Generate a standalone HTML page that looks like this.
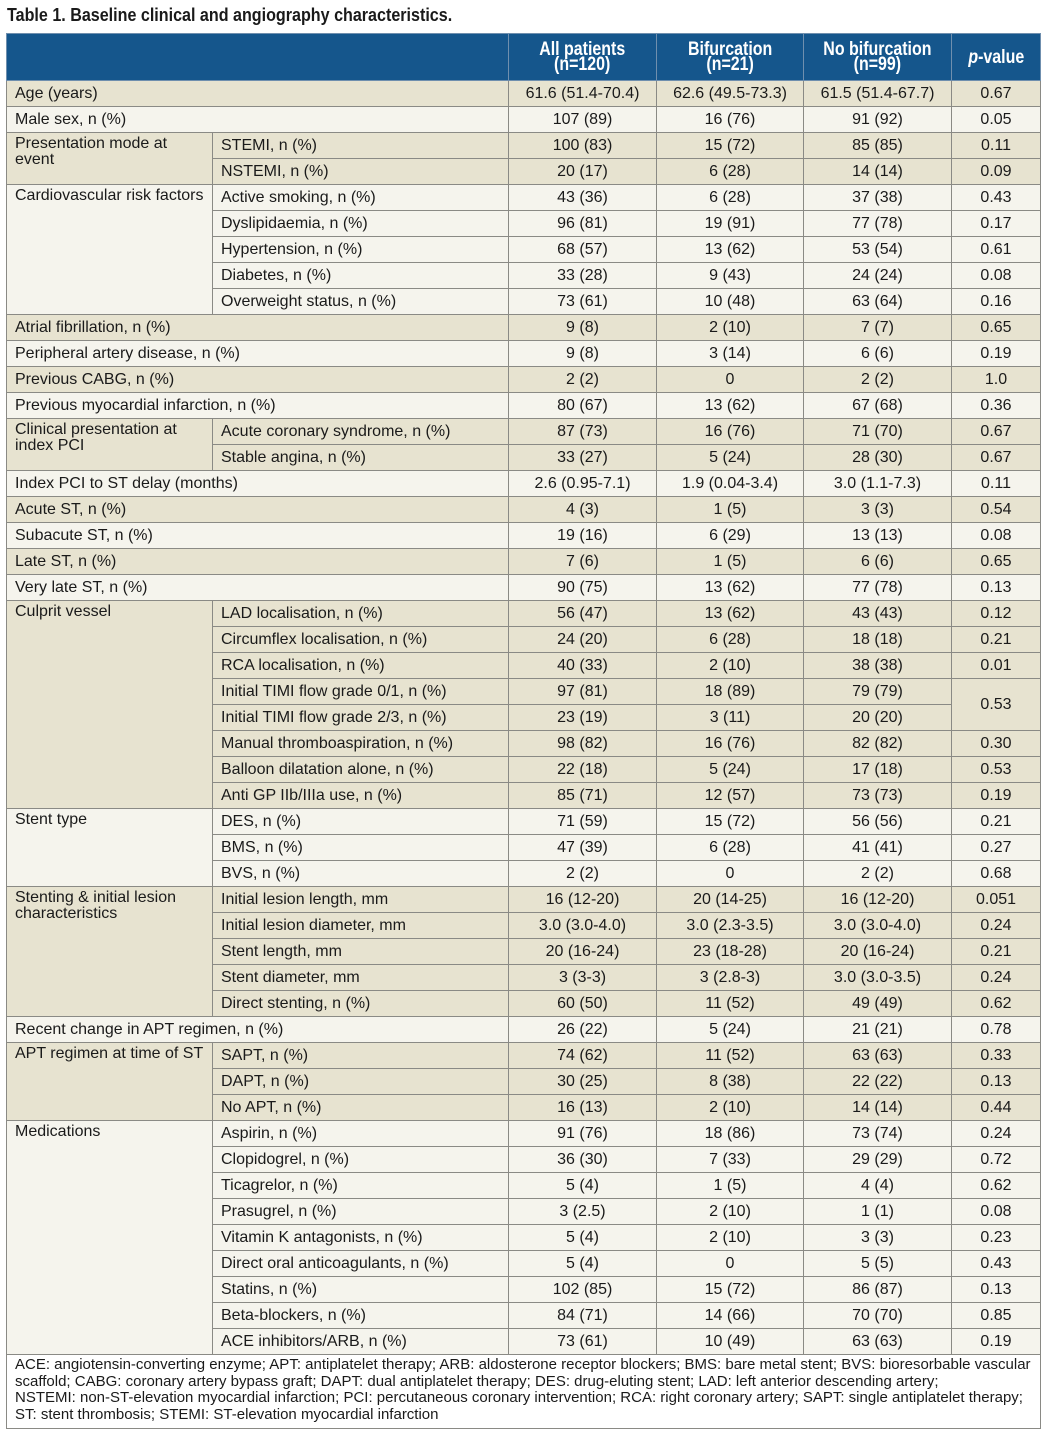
<!DOCTYPE html>
<html><head><meta charset="utf-8"><style>
body{margin:0;background:#fff;width:1047px;height:1437px;font-family:"Liberation Sans",sans-serif;color:#1a1a1a;}
h1{position:absolute;left:7px;top:4px;margin:0;font-weight:bold;font-size:18.5px;transform:scaleX(0.87);transform-origin:0 0;white-space:nowrap;}
table{position:absolute;left:6px;top:33px;border-collapse:collapse;table-layout:fixed;width:1034px;font-size:16px;border:1.5px solid #777;}
td,th{border:1px solid #8a8a85;padding:0 0 0 8px;height:25px;line-height:17px;white-space:nowrap;overflow:hidden;}
th{background:#15568c;color:#fff;font-size:19px;font-weight:bold;line-height:15px;height:46px;text-align:center;padding:0;border-color:#6f8fae;}
th span{display:inline-block;transform:scaleX(0.84);}
td.n{text-align:center;padding:0;}
td.l{vertical-align:top;padding-top:3px;white-space:normal;line-height:16px;}
.a td{background:#e7e3d0;}
.b td{background:#f5f4ed;}
.f td{background:#fff;white-space:nowrap;font-size:15px;line-height:16.5px;padding:2px 6px 5px 8px;height:auto;}
</style></head><body>
<h1>Table 1. Baseline clinical and angiography characteristics.</h1>
<table>
<colgroup><col style="width:206px"><col style="width:296px"><col style="width:148px"><col style="width:147px"><col style="width:148px"><col style="width:89px"></colgroup>
<tr><th colspan="2"></th><th><span>All patients<br>(n=120)</span></th><th><span>Bifurcation<br>(n=21)</span></th><th><span>No bifurcation<br>(n=99)</span></th><th><span><i>p</i>-value</span></th></tr>
<tbody class="a"><tr><td colspan="2">Age (years)</td><td class="n">61.6 (51.4-70.4)</td><td class="n">62.6 (49.5-73.3)</td><td class="n">61.5 (51.4-67.7)</td><td class="n">0.67</td></tr></tbody>
<tbody class="b"><tr><td colspan="2">Male sex, n (%)</td><td class="n">107 (89)</td><td class="n">16 (76)</td><td class="n">91 (92)</td><td class="n">0.05</td></tr></tbody>
<tbody class="a"><tr><td rowspan="2" class="l">Presentation mode at<br>event</td><td>STEMI, n (%)</td><td class="n">100 (83)</td><td class="n">15 (72)</td><td class="n">85 (85)</td><td class="n">0.11</td></tr>
<tr><td>NSTEMI, n (%)</td><td class="n">20 (17)</td><td class="n">6 (28)</td><td class="n">14 (14)</td><td class="n">0.09</td></tr></tbody>
<tbody class="b"><tr><td rowspan="5" class="l">Cardiovascular risk factors</td><td>Active smoking, n (%)</td><td class="n">43 (36)</td><td class="n">6 (28)</td><td class="n">37 (38)</td><td class="n">0.43</td></tr>
<tr><td>Dyslipidaemia, n (%)</td><td class="n">96 (81)</td><td class="n">19 (91)</td><td class="n">77 (78)</td><td class="n">0.17</td></tr>
<tr><td>Hypertension, n (%)</td><td class="n">68 (57)</td><td class="n">13 (62)</td><td class="n">53 (54)</td><td class="n">0.61</td></tr>
<tr><td>Diabetes, n (%)</td><td class="n">33 (28)</td><td class="n">9 (43)</td><td class="n">24 (24)</td><td class="n">0.08</td></tr>
<tr><td>Overweight status, n (%)</td><td class="n">73 (61)</td><td class="n">10 (48)</td><td class="n">63 (64)</td><td class="n">0.16</td></tr></tbody>
<tbody class="a"><tr><td colspan="2">Atrial fibrillation, n (%)</td><td class="n">9 (8)</td><td class="n">2 (10)</td><td class="n">7 (7)</td><td class="n">0.65</td></tr></tbody>
<tbody class="b"><tr><td colspan="2">Peripheral artery disease, n (%)</td><td class="n">9 (8)</td><td class="n">3 (14)</td><td class="n">6 (6)</td><td class="n">0.19</td></tr></tbody>
<tbody class="a"><tr><td colspan="2">Previous CABG, n (%)</td><td class="n">2 (2)</td><td class="n">0</td><td class="n">2 (2)</td><td class="n">1.0</td></tr></tbody>
<tbody class="b"><tr><td colspan="2">Previous myocardial infarction, n (%)</td><td class="n">80 (67)</td><td class="n">13 (62)</td><td class="n">67 (68)</td><td class="n">0.36</td></tr></tbody>
<tbody class="a"><tr><td rowspan="2" class="l">Clinical presentation at index PCI</td><td>Acute coronary syndrome, n (%)</td><td class="n">87 (73)</td><td class="n">16 (76)</td><td class="n">71 (70)</td><td class="n">0.67</td></tr>
<tr><td>Stable angina, n (%)</td><td class="n">33 (27)</td><td class="n">5 (24)</td><td class="n">28 (30)</td><td class="n">0.67</td></tr></tbody>
<tbody class="b"><tr><td colspan="2">Index PCI to ST delay (months)</td><td class="n">2.6 (0.95-7.1)</td><td class="n">1.9 (0.04-3.4)</td><td class="n">3.0 (1.1-7.3)</td><td class="n">0.11</td></tr></tbody>
<tbody class="a"><tr><td colspan="2">Acute ST, n (%)</td><td class="n">4 (3)</td><td class="n">1 (5)</td><td class="n">3 (3)</td><td class="n">0.54</td></tr></tbody>
<tbody class="b"><tr><td colspan="2">Subacute ST, n (%)</td><td class="n">19 (16)</td><td class="n">6 (29)</td><td class="n">13 (13)</td><td class="n">0.08</td></tr></tbody>
<tbody class="a"><tr><td colspan="2">Late ST, n (%)</td><td class="n">7 (6)</td><td class="n">1 (5)</td><td class="n">6 (6)</td><td class="n">0.65</td></tr></tbody>
<tbody class="b"><tr><td colspan="2">Very late ST, n (%)</td><td class="n">90 (75)</td><td class="n">13 (62)</td><td class="n">77 (78)</td><td class="n">0.13</td></tr></tbody>
<tbody class="a"><tr><td rowspan="8" class="l">Culprit vessel</td><td>LAD localisation, n (%)</td><td class="n">56 (47)</td><td class="n">13 (62)</td><td class="n">43 (43)</td><td class="n">0.12</td></tr>
<tr><td>Circumflex localisation, n (%)</td><td class="n">24 (20)</td><td class="n">6 (28)</td><td class="n">18 (18)</td><td class="n">0.21</td></tr>
<tr><td>RCA localisation, n (%)</td><td class="n">40 (33)</td><td class="n">2 (10)</td><td class="n">38 (38)</td><td class="n">0.01</td></tr>
<tr><td>Initial TIMI flow grade 0/1, n (%)</td><td class="n">97 (81)</td><td class="n">18 (89)</td><td class="n">79 (79)</td><td class="n" rowspan="2">0.53</td></tr>
<tr><td>Initial TIMI flow grade 2/3, n (%)</td><td class="n">23 (19)</td><td class="n">3 (11)</td><td class="n">20 (20)</td></tr>
<tr><td>Manual thromboaspiration, n (%)</td><td class="n">98 (82)</td><td class="n">16 (76)</td><td class="n">82 (82)</td><td class="n">0.30</td></tr>
<tr><td>Balloon dilatation alone, n (%)</td><td class="n">22 (18)</td><td class="n">5 (24)</td><td class="n">17 (18)</td><td class="n">0.53</td></tr>
<tr><td>Anti GP IIb/IIIa use, n (%)</td><td class="n">85 (71)</td><td class="n">12 (57)</td><td class="n">73 (73)</td><td class="n">0.19</td></tr></tbody>
<tbody class="b"><tr><td rowspan="3" class="l">Stent type</td><td>DES, n (%)</td><td class="n">71 (59)</td><td class="n">15 (72)</td><td class="n">56 (56)</td><td class="n">0.21</td></tr>
<tr><td>BMS, n (%)</td><td class="n">47 (39)</td><td class="n">6 (28)</td><td class="n">41 (41)</td><td class="n">0.27</td></tr>
<tr><td>BVS, n (%)</td><td class="n">2 (2)</td><td class="n">0</td><td class="n">2 (2)</td><td class="n">0.68</td></tr></tbody>
<tbody class="a"><tr><td rowspan="5" class="l">Stenting &amp; initial lesion characteristics</td><td>Initial lesion length, mm</td><td class="n">16 (12-20)</td><td class="n">20 (14-25)</td><td class="n">16 (12-20)</td><td class="n">0.051</td></tr>
<tr><td>Initial lesion diameter, mm</td><td class="n">3.0 (3.0-4.0)</td><td class="n">3.0 (2.3-3.5)</td><td class="n">3.0 (3.0-4.0)</td><td class="n">0.24</td></tr>
<tr><td>Stent length, mm</td><td class="n">20 (16-24)</td><td class="n">23 (18-28)</td><td class="n">20 (16-24)</td><td class="n">0.21</td></tr>
<tr><td>Stent diameter, mm</td><td class="n">3 (3-3)</td><td class="n">3 (2.8-3)</td><td class="n">3.0 (3.0-3.5)</td><td class="n">0.24</td></tr>
<tr><td>Direct stenting, n (%)</td><td class="n">60 (50)</td><td class="n">11 (52)</td><td class="n">49 (49)</td><td class="n">0.62</td></tr></tbody>
<tbody class="b"><tr><td colspan="2">Recent change in APT regimen, n (%)</td><td class="n">26 (22)</td><td class="n">5 (24)</td><td class="n">21 (21)</td><td class="n">0.78</td></tr></tbody>
<tbody class="a"><tr><td rowspan="3" class="l">APT regimen at time of ST</td><td>SAPT, n (%)</td><td class="n">74 (62)</td><td class="n">11 (52)</td><td class="n">63 (63)</td><td class="n">0.33</td></tr>
<tr><td>DAPT, n (%)</td><td class="n">30 (25)</td><td class="n">8 (38)</td><td class="n">22 (22)</td><td class="n">0.13</td></tr>
<tr><td>No APT, n (%)</td><td class="n">16 (13)</td><td class="n">2 (10)</td><td class="n">14 (14)</td><td class="n">0.44</td></tr></tbody>
<tbody class="b"><tr><td rowspan="9" class="l">Medications</td><td>Aspirin, n (%)</td><td class="n">91 (76)</td><td class="n">18 (86)</td><td class="n">73 (74)</td><td class="n">0.24</td></tr>
<tr><td>Clopidogrel, n (%)</td><td class="n">36 (30)</td><td class="n">7 (33)</td><td class="n">29 (29)</td><td class="n">0.72</td></tr>
<tr><td>Ticagrelor, n (%)</td><td class="n">5 (4)</td><td class="n">1 (5)</td><td class="n">4 (4)</td><td class="n">0.62</td></tr>
<tr><td>Prasugrel, n (%)</td><td class="n">3 (2.5)</td><td class="n">2 (10)</td><td class="n">1 (1)</td><td class="n">0.08</td></tr>
<tr><td>Vitamin K antagonists, n (%)</td><td class="n">5 (4)</td><td class="n">2 (10)</td><td class="n">3 (3)</td><td class="n">0.23</td></tr>
<tr><td>Direct oral anticoagulants, n (%)</td><td class="n">5 (4)</td><td class="n">0</td><td class="n">5 (5)</td><td class="n">0.43</td></tr>
<tr><td>Statins, n (%)</td><td class="n">102 (85)</td><td class="n">15 (72)</td><td class="n">86 (87)</td><td class="n">0.13</td></tr>
<tr><td>Beta-blockers, n (%)</td><td class="n">84 (71)</td><td class="n">14 (66)</td><td class="n">70 (70)</td><td class="n">0.85</td></tr>
<tr><td>ACE inhibitors/ARB, n (%)</td><td class="n">73 (61)</td><td class="n">10 (49)</td><td class="n">63 (63)</td><td class="n">0.19</td></tr></tbody>
<tbody class="f"><tr><td colspan="6">ACE: angiotensin-converting enzyme; APT: antiplatelet therapy; ARB: aldosterone receptor blockers; BMS: bare metal stent; BVS: bioresorbable vascular<br>scaffold; CABG: coronary artery bypass graft; DAPT: dual antiplatelet therapy; DES: drug-eluting stent; LAD: left anterior descending artery;<br>NSTEMI: non-ST-elevation myocardial infarction; PCI: percutaneous coronary intervention; RCA: right coronary artery; SAPT: single antiplatelet therapy;<br>ST: stent thrombosis; STEMI: ST-elevation myocardial infarction</td></tr></tbody>
</table>
</body></html>
